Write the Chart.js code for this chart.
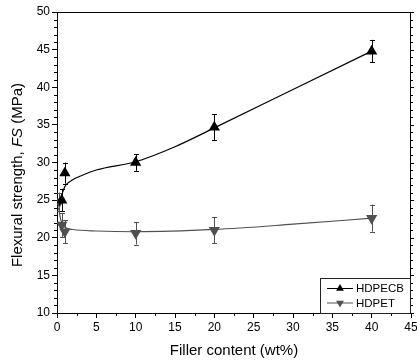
<!DOCTYPE html>
<html>
<head>
<meta charset="utf-8">
<script src="https://cdn.jsdelivr.net/npm/chart.js@4.4.0/dist/chart.umd.min.js"></script>
<style>
  html, body { margin: 0; padding: 0; background: #fff; overflow: hidden; }
  #wrap { width: 420px; height: 364px; position: relative; }
</style>
</head>
<body>
<div id="wrap"><canvas id="fsChart"></canvas></div>
<script>
// Flexural strength (MPa) against filler content (wt%)
const cbFiller = [0.6, 1, 10, 20, 40];
const cbStrength = [25.0, 28.6, 30.0, 34.7, 44.8];
const cbError = [1.5, 1.4, 1.1, 1.7, 1.5];

const petFiller = [0.3, 0.6, 1, 10, 20, 40];
const petStrength = [24.8, 21.7, 20.8, 20.6, 21.0, 22.6];
const petError = [1.2, 1.6, 1.5, 1.5, 1.7, 1.8];

// fitted trend curves
const cbFitX = [0.3, 0.6, 1, 2, 3, 5, 10, 15, 20, 30, 40];
const cbFitY = [24.3, 25.6, 26.8, 27.7, 28.2, 29.0, 30.1, 32.1, 34.6, 39.7, 44.8];
const petFitX = [0.2, 0.5, 1, 2, 5, 10, 20, 30, 40];
const petFitY = [24.0, 22.3, 21.4, 21.1, 20.9, 20.8, 21.1, 21.8, 22.6];

// axis ranges and tick steps
const xRange = [0, 45];
const yRange = [10, 50];
const xMajor = 5, xMinor = 2.5;
const yMajor = 5, yMinor = 1;

const seriesNames = ["HDPECB", "HDPET"];
const cbColor = "#000000";
const petColor = "#505050";

const FONT = "'Liberation Sans', Arial, sans-serif";

function toPoints(xs, ys) {
  return xs.map(function (x, i) { return { x: x, y: ys[i] }; });
}

// error bars, minor ticks, frame, titles and the boxed legend
const extrasPlugin = {
  id: "extras",
  beforeDatasetsDraw: function (chart) {
    const ctx = chart.ctx;
    const xs = chart.scales.x, ys = chart.scales.y;
    function bars(xv, yv, ev, color) {
      ctx.save();
      ctx.strokeStyle = color;
      ctx.lineWidth = 1;
      xv.forEach(function (x, i) {
        const px = Math.round(xs.getPixelForValue(x)) + 0.5;
        const top = ys.getPixelForValue(yv[i] + ev[i]);
        const bot = ys.getPixelForValue(yv[i] - ev[i]);
        ctx.beginPath();
        ctx.moveTo(px, top); ctx.lineTo(px, bot);
        ctx.moveTo(px - 2.5, Math.round(top) + 0.5); ctx.lineTo(px + 2.5, Math.round(top) + 0.5);
        ctx.moveTo(px - 2.5, Math.round(bot) + 0.5); ctx.lineTo(px + 2.5, Math.round(bot) + 0.5);
        ctx.stroke();
      });
      ctx.restore();
    }
    bars(petFiller, petStrength, petError, petColor);
    bars(cbFiller, cbStrength, cbError, cbColor);
  },
  afterDraw: function (chart) {
    const ctx = chart.ctx;
    const a = chart.chartArea;
    const xs = chart.scales.x, ys = chart.scales.y;
    ctx.save();
    ctx.strokeStyle = "#000";
    ctx.lineWidth = 1;

    // frame top and right
    ctx.beginPath();
    ctx.moveTo(a.left, Math.round(a.top) + 0.5);
    ctx.lineTo(a.right, Math.round(a.top) + 0.5);
    ctx.moveTo(Math.round(a.right) - 0.5, a.top);
    ctx.lineTo(Math.round(a.right) - 0.5, a.bottom);
    ctx.stroke();

    // minor ticks
    ctx.beginPath();
    for (let v = xRange[0]; v <= xRange[1] + 1e-6; v += xMinor) {
      if (Math.abs(v % xMajor) < 1e-6) continue;
      const px = Math.round(xs.getPixelForValue(v)) + 0.5;
      ctx.moveTo(px, a.bottom); ctx.lineTo(px, a.bottom + 3);
    }
    for (let v = yRange[0]; v <= yRange[1] + 1e-6; v += yMinor) {
      const py = Math.round(ys.getPixelForValue(v)) + 0.5;
      const major = Math.abs(v % yMajor) < 1e-6;
      if (!major) { ctx.moveTo(a.left, py); ctx.lineTo(a.left - 3, py); }
      ctx.moveTo(a.right, py); ctx.lineTo(a.right + (major ? 3 : 2), py);
    }
    ctx.stroke();

    // axis titles
    ctx.fillStyle = "#000";
    ctx.font = "15px " + FONT;
    ctx.textAlign = "center";
    ctx.textBaseline = "middle";
    ctx.fillText("Filler content (wt%)", (a.left + a.right) / 2, 351);

    const parts = [
      { t: "Flexural strength, ", f: "15px " + FONT },
      { t: "FS", f: "italic 15px " + FONT },
      { t: " (MPa)", f: "15px " + FONT }
    ];
    let total = 0;
    parts.forEach(function (p) { ctx.font = p.f; p.w = ctx.measureText(p.t).width; total += p.w; });
    ctx.translate(18, 175);
    ctx.rotate(-Math.PI / 2);
    ctx.textAlign = "left";
    let cx = -total / 2;
    parts.forEach(function (p) { ctx.font = p.f; ctx.fillText(p.t, cx, 0); cx += p.w; });
    ctx.restore();

    // legend box
    ctx.save();
    const bx = 320, by = 278, bw = a.right - 320, bh = a.bottom - 278;
    ctx.fillStyle = "#fff";
    ctx.fillRect(bx, by, bw, bh);
    ctx.strokeStyle = "#222";
    ctx.lineWidth = 1;
    ctx.strokeRect(bx + 0.5, by + 0.5, bw - 1, bh);
    const rows = [
      { label: seriesNames[0], color: cbColor, rot: 0, y: 288.5 },
      { label: seriesNames[1], color: petColor, rot: 180, y: 303 }
    ];
    rows.forEach(function (r) {
      ctx.strokeStyle = r.color;
      ctx.beginPath();
      ctx.moveTo(327, r.y); ctx.lineTo(353, r.y);
      ctx.stroke();
      ctx.fillStyle = r.color;
      Chart.helpers.drawPoint(ctx, {
        pointStyle: "triangle", rotation: r.rot, radius: 4.5, borderWidth: 0
      }, 340, r.y);
      ctx.fillStyle = "#000";
      ctx.font = "11.5px " + FONT;
      ctx.textAlign = "left";
      ctx.textBaseline = "middle";
      ctx.fillText(r.label, 356, r.y + 0.5);
    });
    ctx.restore();
  }
};

const ctx = document.getElementById("fsChart").getContext("2d");
new Chart(ctx, {
  type: "scatter",
  data: {
    datasets: [
      {
        label: seriesNames[0] + " fit",
        data: toPoints(cbFitX, cbFitY),
        showLine: true,
        borderColor: cbColor,
        borderWidth: 1.2,
        pointRadius: 0,
        cubicInterpolationMode: "monotone"
      },
      {
        label: seriesNames[1] + " fit",
        data: toPoints(petFitX, petFitY),
        showLine: true,
        borderColor: petColor,
        borderWidth: 1.2,
        pointRadius: 0,
        cubicInterpolationMode: "monotone"
      },
      {
        label: seriesNames[0],
        data: toPoints(cbFiller, cbStrength),
        pointStyle: "triangle",
        pointRadius: 6.5,
        backgroundColor: cbColor,
        borderColor: cbColor,
        borderWidth: 0
      },
      {
        label: seriesNames[1],
        data: toPoints(petFiller, petStrength),
        pointStyle: "triangle",
        rotation: 180,
        pointRadius: 6.5,
        backgroundColor: petColor,
        borderColor: petColor,
        borderWidth: 0
      }
    ]
  },
  options: {
    responsive: true,
    maintainAspectRatio: false,
    animation: false,
    layout: { padding: { left: 0, right: 9, top: 12, bottom: 0 } },
    plugins: {
      legend: { display: false },
      tooltip: { enabled: false }
    },
    scales: {
      x: {
        type: "linear",
        min: xRange[0],
        max: xRange[1],
        ticks: { stepSize: xMajor, color: "#000", font: { family: FONT, size: 12 }, padding: 2, maxRotation: 0 },
        grid: { drawOnChartArea: false, tickLength: 5, tickColor: "#000" },
        border: { color: "#000", width: 1 },
        afterFit: function (scale) { scale.height = 51; }
      },
      y: {
        type: "linear",
        min: yRange[0],
        max: yRange[1],
        ticks: { stepSize: yMajor, color: "#000", font: { family: FONT, size: 12 }, padding: 2 },
        grid: { drawOnChartArea: false, tickLength: 5, tickColor: "#000" },
        border: { color: "#000", width: 1 },
        afterFit: function (scale) { scale.width = 57; }
      }
    }
  },
  plugins: [extrasPlugin]
});
</script>
</body>
</html>
